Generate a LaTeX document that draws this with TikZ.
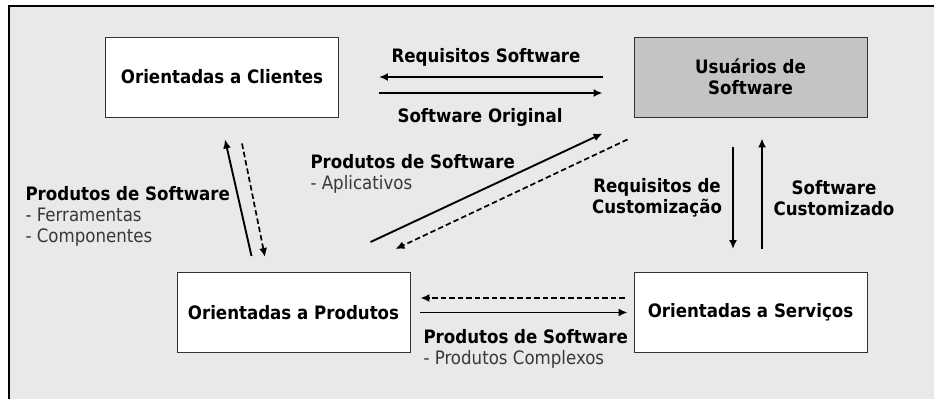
\documentclass[tikz,border=0pt]{standalone}
\usepackage{fontspec}
\setmainfont{DejaVu Sans Condensed}
\usetikzlibrary{arrows.meta,calc}
\definecolor{bgfill}{HTML}{E9E9E9}
\definecolor{usufill}{HTML}{C4C4C4}
\definecolor{subtext}{HTML}{383838}
\newcommand{\subline}[1]{{\mdseries\color{subtext}#1}}
\begin{document}
\begin{tikzpicture}[x=1pt, y=-1pt,
    every node/.style={font=\fontsize{18.5}{21}\selectfont\bfseries},
    orgbox/.style={draw=black!80, line width=0.9pt, fill=white, minimum width=233pt, minimum height=80pt, align=center},
    arr/.style={-{Latex[length=9pt,width=8pt]}, line width=1.9pt},
    darr/.style={arr, line width=1.7pt, dash pattern=on 5.5pt off 3pt}]

  \useasboundingbox (0,0) rectangle (934,399);
  \fill[bgfill] (9,6) rectangle (934,399);
  \draw[line width=2pt] (9,399) -- (9,6) -- (934,6);

  % organizacoes
  \node[orgbox] (cli) at (222,77) {Orientadas a Clientes};
  \node[orgbox, fill=usufill] (usu) at (750.5,77) {Usuários de\\Software};
  \node[orgbox] (prod) at (293.5,312.5) {Orientadas a Produtos};
  \node[orgbox] (serv) at (750.5,312.5) {Orientadas a Serviços};

  % clientes <-> usuarios
  \draw[arr, shorten <=31pt, shorten >=40pt] (usu.west) -- (cli.east);
  \draw[arr, shorten <=40pt, shorten >=31pt] ([yshift=-16pt]cli.east) -- ([yshift=-16pt]usu.west);
  \node (reqsw) at (486,57) {Requisitos Software};
  \node (orig) at (480,117) {Software Original};

  % produtos <-> clientes
  \draw[arr] ([shift={(-42,-16)}]prod.north) -- ([shift={(3,22)}]cli.south);
  \draw[darr] ([shift={(20,26)}]cli.south) -- ([shift={(-28.5,-15)}]prod.north);
  \node[anchor=west, align=left] (ferr) at (22,216) {Produtos de Software\\\subline{- Ferramentas}\\\subline{- Componentes}};

  % produtos <-> usuarios
  \draw[arr] ([shift={(-40,-30)}]prod.north east) -- ([shift={(-31,16)}]usu.south west);
  \draw[darr] ([shift={(-6,22)}]usu.south west) -- ([shift={(-15,-23)}]prod.north east);
  \node[anchor=west, align=left] (apl) at (307,174) {Produtos de Software\\\subline{- Aplicativos}};

  % usuarios <-> servicos
  \draw[arr] ([shift={(-17.5,30)}]usu.south) -- ([shift={(-17.5,-23)}]serv.north);
  \draw[arr] ([shift={(11.5,-23)}]serv.north) -- ([shift={(11.5,21)}]usu.south);
  \node[align=center] (reqcust) at (657,198) {Requisitos de\\Customização};
  \node[align=center] (swcust) at (834,198) {Software\\Customizado};

  % produtos <-> servicos
  \draw[darr, shorten <=9pt, shorten >=10pt] ([yshift=14.5pt]serv.west) -- ([yshift=14.5pt]prod.east);
  \draw[arr, shorten <=10pt, shorten >=6pt] (prod.east) -- (serv.west);
  \node[anchor=west, align=left] (compl) at (420,349) {Produtos de Software\\\subline{- Produtos Complexos}};

\end{tikzpicture}
\end{document}
